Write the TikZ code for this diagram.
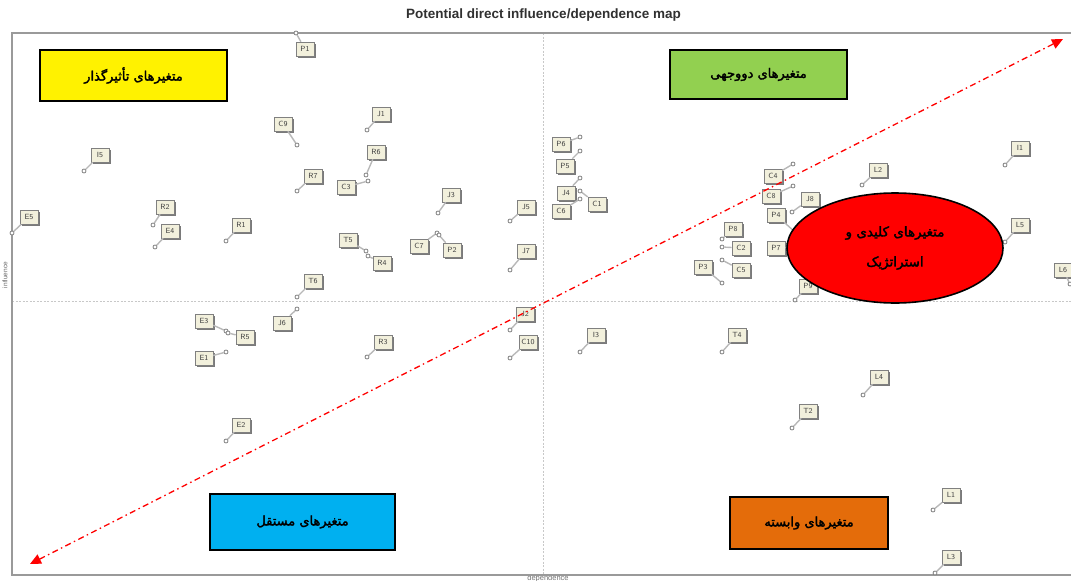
\documentclass[tikz,border=0pt]{standalone}
\usepackage{fontspec}
\setmainfont{Liberation Sans}
\newfontfamily\arabicfont[Script=Arabic,FakeBold=2.2]{DejaVu Sans}
\TeXXeTstate=1
\usetikzlibrary{arrows.meta,shadows,shapes.geometric}
\definecolor{framegray}{HTML}{9A9A9A}
\definecolor{gridgray}{HTML}{C8C8C8}
\definecolor{boxbeige}{HTML}{F2F0DC}
\definecolor{linkgray}{HTML}{B8B8B8}
\definecolor{ptgray}{HTML}{808080}
\definecolor{labtext}{HTML}{404040}
\definecolor{greenq}{HTML}{92D050}
\definecolor{blueq}{HTML}{00B0F0}
\definecolor{orangeq}{HTML}{E46C0A}
\definecolor{titlecol}{HTML}{303030}
\tikzset{
  vbox/.style={draw=ptgray, fill=boxbeige, line width=0.6pt, inner sep=1.4pt,
    minimum width=18pt, minimum height=14pt, font=\sffamily\fontsize{7.5}{7.5}\selectfont,
    text=labtext, drop shadow={shadow xshift=1.6pt, shadow yshift=-1.6pt, fill=black!65, opacity=0.8}},
  vpt/.style={circle, draw=ptgray, fill=white, line width=0.8pt, inner sep=0pt, minimum size=4pt},
  vlink/.style={draw=linkgray, line width=1.4pt},
  quadbox/.style={draw=black, line width=1.6pt, minimum height=51pt,
    font=\arabicfont\fontsize{13}{15}\selectfont},
  axisline/.style={draw=framegray, line width=1.6pt},
  gridline/.style={draw=gridgray, line width=1pt, dash pattern=on 2pt off 1.5pt},
  diagarrow/.style={draw=red, line width=1.3pt, dash pattern=on 6pt off 3.5pt on 1.5pt off 3.5pt,
    {Triangle[length=11pt,width=10pt]}-{Triangle[length=11pt,width=10pt]}}
}
\newcommand{\vari}[6]{%
  \node[vpt] (p#1) at (#3,#4) {};
  \node[vbox] (b#1) at (#5,#6) {#2};
  \draw[vlink] (p#1) -- (b#1);}
\begin{document}
\begin{tikzpicture}[x=1pt,y=-1pt]
\path[use as bounding box] (0,0) rectangle (1071,581);
% title and axis labels
\node[font=\bfseries\fontsize{13.5}{13.5}\selectfont, text=titlecol] (title) at (543.5,15) {Potential direct influence/dependence map};
\node[font=\fontsize{6.5}{6.5}\selectfont, text=black!60, rotate=90] (inflab) at (5,275) {influence};
\node[font=\fontsize{7.5}{7.5}\selectfont, text=black!55] (deplab) at (548,578.5) {dependence};
% frame and grid
\coordinate (tl) at (12,33);
\coordinate (tr) at (1071,33);
\coordinate (bl) at (12,575);
\coordinate (br) at (1071,575);
\coordinate (vt) at (543,33);
\coordinate (vb) at (543,575);
\coordinate (hl) at (12,301);
\coordinate (hr) at (1071,301);
\draw[gridline] (vt) -- (vb);
\draw[gridline] (hl) -- (hr);
\draw[axisline] (tr) -- (tl) -- (bl) -- (br);
% quadrant boxes
\node[quadbox, fill=yellow, minimum width=187pt] (qinf) at (133.5,75.5) {\beginR متغیرهای تأثیرگذار\endR};
\node[quadbox, fill=greenq, minimum width=177pt, minimum height=49pt] (qdual) at (758.5,74.5) {\beginR متغیرهای دووجهی\endR};
\node[quadbox, fill=blueq, minimum width=185pt, minimum height=56pt] (qind) at (302.5,522) {\beginR متغیرهای مستقل\endR};
\node[quadbox, fill=orangeq, minimum width=158pt, minimum height=52pt] (qdep) at (809,523) {\beginR متغیرهای وابسته\endR};
% variables, top left
\vari{P1}{P1}{296}{33}{305}{49}
\vari{C9}{C9}{297}{145}{283}{124}
\vari{J1}{J1}{367}{130}{381}{114}
\vari{I5}{I5}{84}{171}{100}{155}
\vari{R6}{R6}{366}{175}{376}{152}
\vari{R7}{R7}{297}{191}{313}{176}
\vari{C3}{C3}{368}{181}{346}{187}
\vari{E5}{E5}{12}{233}{29}{217}
\vari{R2}{R2}{153}{225}{165}{207}
\vari{E4}{E4}{155}{247}{170}{231}
\vari{R1}{R1}{226}{241}{241}{225}
\vari{J3}{J3}{438}{213}{451}{195}
\vari{J5}{J5}{510}{221}{526}{207}
\vari{T5}{T5}{366}{251}{348}{240}
\vari{R4}{R4}{368}{256}{382}{263}
\vari{C7}{C7}{437}{233}{419}{246}
\vari{P2}{P2}{439}{235}{452}{250}
\vari{J7}{J7}{510}{270}{526}{251}
\vari{T6}{T6}{297}{297}{313}{281}
% bottom left
\vari{J6}{J6}{297}{309}{282}{323}
\vari{E3}{E3}{226}{331}{204}{321}
\vari{R5}{R5}{228}{333}{245}{337}
\vari{E1}{E1}{226}{352}{204}{358}
\vari{R3}{R3}{367}{357}{383}{342}
\vari{J2}{J2}{510}{330}{525}{314}
\vari{C10}{C10}{510}{358}{528}{342}
\vari{E2}{E2}{226}{441}{241}{425}
% top right
\vari{I6}{P6}{580}{137}{561}{144}
\vari{P5}{P5}{580}{151}{565}{166}
\vari{J4}{J4}{580}{178}{566}{193}
\vari{C6}{C6}{580}{199}{561}{211}
\vari{C1}{C1}{580}{191}{597}{204}
\vari{C4}{C4}{793}{164}{773}{176}
\vari{C8}{C8}{793}{186}{771}{196}
\vari{J8}{J8}{792}{212}{810}{199}
\vari{P4}{P4}{795}{232}{776}{215}
\vari{P8}{P8}{722}{239}{733}{229}
\vari{C2}{C2}{722}{247}{741}{248}
\vari{P7}{P7}{797}{247}{776}{248}
\vari{P3}{P3}{722}{283}{703}{267}
\vari{C5}{C5}{722}{260}{741}{270}
\vari{P9}{P9}{795}{300}{808}{286}
\vari{L2}{L2}{862}{185}{878}{170}
\vari{I1}{I1}{1005}{165}{1020}{148}
\vari{L5}{L5}{1005}{242}{1020}{225}
\vari{L6}{L6}{1070}{284}{1063}{270}
% bottom right
\vari{I3}{I3}{580}{352}{596}{335}
\vari{T4}{T4}{722}{352}{737}{335}
\vari{L4}{L4}{863}{395}{879}{377}
\vari{T2}{T2}{792}{428}{808}{411}
\vari{L1}{L1}{933}{510}{951}{495}
\vari{L3}{L3}{935}{573}{951}{557}
% key variables ellipse
\node[ellipse, draw=black, line width=1.6pt, fill=red, minimum width=216pt, minimum height=110pt,
  align=center, font=\arabicfont\fontsize{13.5}{30}\selectfont] (qkey) at (895,248)
  {\beginR متغیرهای کلیدی و\endR\\\beginR استراتژیک\endR};
% diagonal arrow
\coordinate (arrL) at (30,564);
\coordinate (arrR) at (1063,39);
\draw[diagarrow] (arrL) -- (arrR);
\end{tikzpicture}
\end{document}
